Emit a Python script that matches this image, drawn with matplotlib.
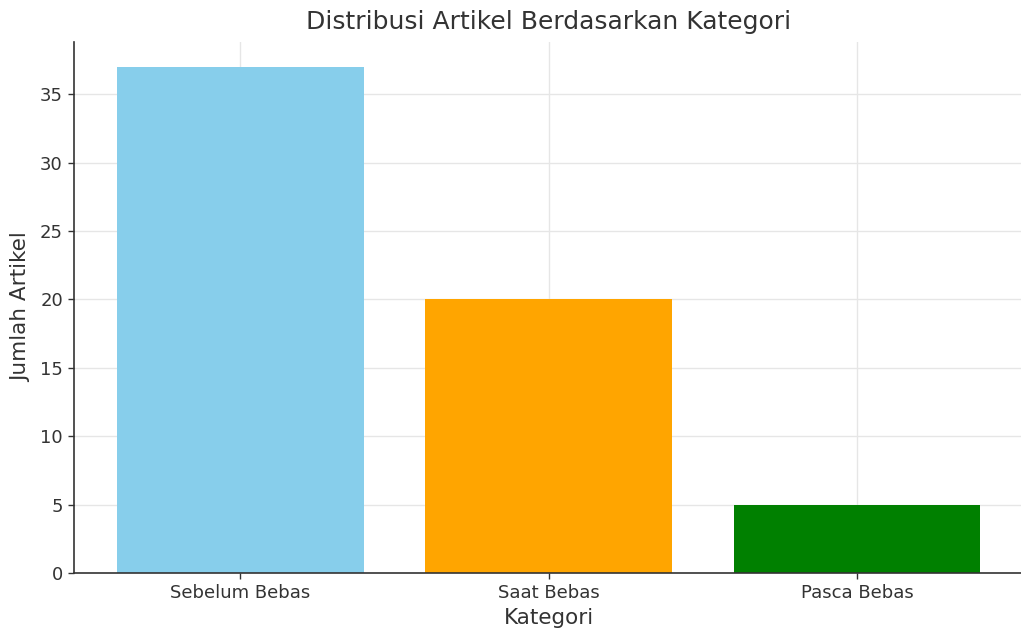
import matplotlib

matplotlib.use("Agg")
import matplotlib.pyplot as plt

categories = ["Sebelum Bebas", "Saat Bebas", "Pasca Bebas"]
counts = [37, 20, 5]
colors = ["skyblue", "orange", "green"]

fig = plt.figure(figsize=(10.21, 6.28), dpi=100)
ax = fig.add_axes([0.0725, 0.0876, 0.93, 0.846])

ax.bar(categories, counts, color=colors, width=0.8, zorder=2)

ax.set_title("Distribusi Artikel Berdasarkan Kategori", fontsize=18, color="#333333", pad=9)
ax.set_xlabel("Kategori", fontsize=15.5, color="#333333", labelpad=4)
ax.set_ylabel("Jumlah Artikel", fontsize=15.5, color="#333333", labelpad=6)
ax.tick_params(labelsize=13, colors="#333333", length=4.5, width=1.0)

ax.grid(True, color="#e6e6e6", linewidth=1.0, zorder=0)
ax.set_axisbelow(True)
for s in ("top", "right"):
    ax.spines[s].set_visible(False)
for s in ("left", "bottom"):
    ax.spines[s].set_color("#333333")
    ax.spines[s].set_linewidth(1.2)

fig.savefig("out.png", dpi=100)
plt.close(fig)
